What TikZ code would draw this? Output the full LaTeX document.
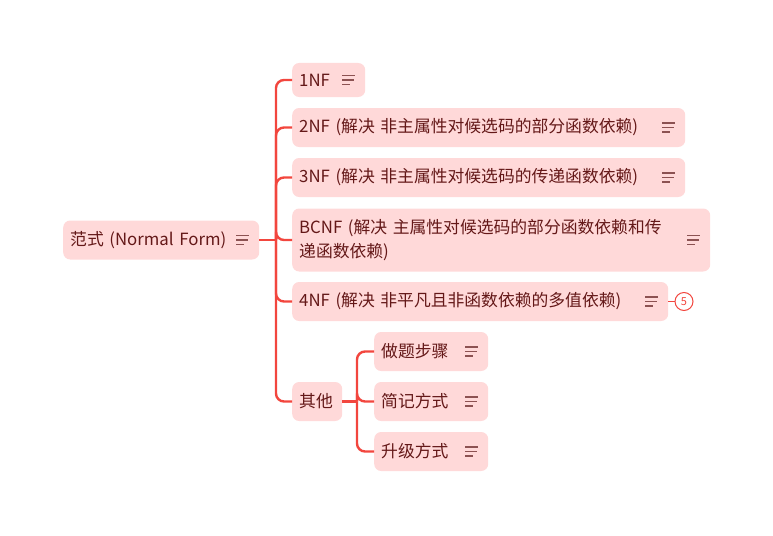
\documentclass[tikz,border=0pt]{standalone}
\usepackage{fontspec}
\setmainfont{Noto Sans CJK SC}
\usetikzlibrary{calc}
\definecolor{boxfill}{RGB}{255,217,217}
\definecolor{linered}{RGB}{242,70,62}
\definecolor{txt}{RGB}{100,24,24}
\definecolor{iconc}{RGB}{140,82,82}
\tikzset{
  box/.style={fill=boxfill, rounded corners=7pt, inner xsep=7pt, inner ysep=0pt,
    minimum height=39pt, anchor=west, align=left, text=txt,
    font=\fontsize{16.8}{24}\selectfont},
  conn/.style={draw=linered, line width=2.4pt, rounded corners=8pt},
  iconline/.style={draw=iconc, line width=1.4pt},
  badge/.style={circle, draw=linered, line width=1pt, fill=white, inner sep=0pt,
    minimum size=18pt, text=linered, font=\fontsize{11}{11}\selectfont}
}
\newcommand{\noteicon}[1]{%
  \draw[iconline] ([xshift=-23pt,yshift=4.4pt]#1.east) -- ++(13,0);
  \draw[iconline] ([xshift=-23pt]#1.east) -- ++(12,0);
  \draw[iconline] ([xshift=-23pt,yshift=-4.4pt]#1.east) -- ++(8,0);
}
\begin{document}
\begin{tikzpicture}[x=1pt,y=-1pt]
\useasboundingbox (0,0) rectangle (773,535);
\node[box, text width=182pt] (root) at (63,240) {范式 (Normal Form)};
\node[box, text width=59pt, minimum height=34pt] (n1) at (292,80) {1NF};
\node[box, text width=379pt] (n2) at (292,127.5) {2NF (解决 非主属性对候选码的部分函数依赖)};
\node[box, text width=379pt] (n3) at (292,177.5) {3NF (解决 非主属性对候选码的传递函数依赖)};
\node[box, text width=404pt, minimum height=63pt] (bc) at (292,240) {BCNF (解决 主属性对候选码的部分函数依赖和传\\递函数依赖)};
\node[box, text width=362pt] (n4) at (292,301.5) {4NF (解决 非平凡且非函数依赖的多值依赖)};
\node[box, text width=36pt] (other) at (292,401.5) {其他};
\node[box, text width=100pt] (s1) at (374,351.5) {做题步骤};
\node[box, text width=100pt] (s2) at (374,401.5) {简记方式};
\node[box, text width=100pt] (s3) at (374,451.5) {升级方式};
\node[badge] (b5) at (684,301.5) {5};
\coordinate (j) at (276,240);
\coordinate (k) at (357,401.5);
\draw[conn] (root.east) -- (j);
\foreach \c in {n1,n2,n3,bc,n4,other}{\draw[conn] (j) |- (\c.west);}
\draw[conn] (other.east) -- (k);
\foreach \c in {s1,s2,s3}{\draw[conn] (k) |- (\c.west);}
\draw[draw=linered, line width=1.4pt] (n4.east) -- (b5.west);
\foreach \c in {root,n1,n2,n3,bc,n4,s1,s2,s3}{\noteicon{\c}}
\end{tikzpicture}
\end{document}
